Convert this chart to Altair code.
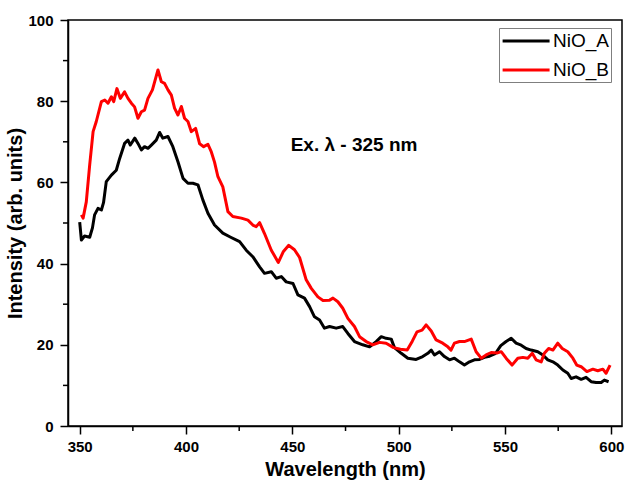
import altair as alt
import pandas as pd

# ---- data ----
a_wl = [350.0, 350.8, 352.3, 354.7, 356.0, 357.0, 358.6, 360.2, 361.2, 362.5, 364.9, 367.2, 368.8,
        371.1, 372.7, 373.8, 375.9, 377.4, 379.0, 380.5, 382.1, 383.7, 386.0, 387.6, 389.1, 391.5,
        393.8, 396.2, 398.6, 400.9, 403.2, 405.6, 407.9, 410.3, 413.4, 417.3, 421.0, 425.2, 428.3,
        431.4, 434.6, 436.9, 440.1, 442.4, 444.8, 447.1, 450.3, 452.6, 455.7, 458.1, 460.4, 462.8,
        465.1, 467.5, 470.6, 473.7, 476.1, 479.2, 483.1, 486.3, 489.4, 491.8, 494.1, 496.5, 498.0,
        501.2, 504.3, 508.2, 511.3, 513.7, 515.3, 516.8, 519.2, 521.5, 523.9, 526.2, 528.6, 530.9,
        533.3, 535.6, 538.0, 540.3, 542.7, 545.4, 548.0, 550.5, 552.9, 555.2, 557.6, 559.9, 562.3,
        565.4, 567.8, 570.1, 572.5, 574.8, 577.2, 579.5, 581.1, 583.4, 585.8, 588.1, 590.5, 592.8,
        595.2, 596.7, 598.7]
a_int = [50.2, 45.8, 46.8, 46.5, 48.8, 52.0, 53.6, 53.2, 55.0, 60.2, 61.8, 63.0, 65.9,
         69.6, 70.4, 69.2, 70.9, 69.6, 68.0, 68.8, 68.4, 69.2, 70.4, 72.3, 70.9, 71.3,
         68.8, 65.1, 61.0, 59.8, 59.8, 59.4, 55.7, 52.4, 49.5, 47.5, 46.5, 45.4, 43.3,
         41.7, 39.2, 37.6, 38.0, 36.4, 36.8, 35.5, 35.1, 32.3, 31.5, 29.4, 26.9, 26.1,
         24.1, 24.5, 24.1, 24.5, 22.8, 20.8, 20.0, 19.5, 20.8, 22.0, 21.6, 21.4, 19.3,
         17.9, 16.7, 16.4, 17.1, 17.9, 18.7, 17.5, 18.3, 17.1, 16.3, 16.7, 15.8, 15.0,
         15.8, 16.3, 16.4, 16.9, 17.2, 17.8, 19.8, 20.8, 21.6, 20.4, 19.9, 19.1, 18.7,
         18.3, 17.5, 16.3, 15.8, 15.0, 13.8, 13.0, 11.7, 12.1, 11.5, 12.0, 10.9, 10.7,
         10.7, 11.3, 10.9]

b_wl = [350.8, 351.6, 353.1, 354.7, 356.3, 357.8, 360.2, 361.8, 363.3, 364.9, 366.0, 367.5, 369.1,
        371.1, 372.7, 374.3, 375.8, 377.4, 379.0, 380.5, 382.1, 384.2, 386.8, 388.4, 389.9, 391.5,
        393.1, 394.6, 396.2, 397.8, 399.3, 400.9, 402.5, 404.5, 406.4, 408.3, 410.3, 411.9, 413.4,
        415.0, 417.3, 419.7, 422.0, 426.0, 429.1, 431.4, 433.0, 434.6, 436.9, 440.1, 443.4, 445.8,
        448.3, 451.0, 453.4, 456.5, 458.9, 462.0, 464.4, 467.5, 469.1, 471.4, 473.7, 476.1, 479.2,
        481.6, 484.7, 487.8, 491.0, 494.1, 497.6, 500.8, 504.0, 506.4, 508.6, 511.0, 512.9, 515.3,
        517.6, 520.7, 523.1, 524.6, 526.2, 528.6, 530.9, 534.1, 536.4, 538.8, 541.1, 543.5, 546.5,
        548.2, 550.5, 553.3, 556.0, 558.4, 560.7, 562.8, 564.6, 567.0, 568.5, 570.5, 572.5, 574.8,
        576.9, 579.5, 581.9, 583.7, 585.8, 588.5, 591.3, 593.6, 596.0, 597.5, 599.4]
b_int = [52.0, 51.2, 55.2, 64.3, 72.5, 75.0, 79.9, 80.3, 79.5, 81.1, 79.9, 83.1, 80.7,
         82.3, 80.7, 79.5, 78.6, 75.8, 77.4, 77.8, 80.7, 82.8, 87.7, 84.8, 84.4, 82.8,
         81.5, 78.3, 76.6, 78.7, 75.8, 75.0, 72.5, 73.3, 69.5, 68.8, 69.4, 67.5, 65.0,
         61.4, 58.9, 52.8, 51.6, 51.2, 50.7, 49.5, 49.1, 50.1, 47.4, 43.3, 40.3, 43.0,
         44.5, 43.4, 41.5, 36.0, 33.9, 31.8, 30.9, 31.0, 31.5, 30.6, 29.0, 26.5, 24.5,
         22.0, 20.8, 20.0, 20.6, 20.4, 19.3, 18.9, 18.7, 20.9, 23.2, 23.6, 24.9, 23.4,
         21.2, 20.4, 19.5, 18.7, 20.4, 20.8, 20.8, 21.4, 18.3, 16.7, 17.5, 18.1, 18.0,
         18.3, 16.7, 15.0, 16.7, 16.9, 16.7, 17.9, 16.3, 15.8, 17.9, 19.1, 18.7, 20.4,
         19.1, 18.3, 16.7, 15.0, 14.6, 13.4, 14.0, 13.6, 14.0, 13.0, 15.0]

series_names = ["NiO_A", "NiO_B"]
series_colors = ["#000000", "#ff0000"]
x_major = [350, 400, 450, 500, 550, 600]
x_minor = [375, 425, 475, 525, 575]
y_major = [0, 20, 40, 60, 80, 100]
y_minor = [10, 30, 50, 70, 90]
note_text = ["Ex. \u03bb - 325 nm"]
note_x = [479]
note_y = [69.2]

FONT = "Liberation Sans"
W, H = 554, 406

df = pd.concat([
    pd.DataFrame({"wl": a_wl, "intensity": a_int, "sample": series_names[0]}),
    pd.DataFrame({"wl": b_wl, "intensity": b_int, "sample": series_names[1]}),
])

xscale = alt.Scale(domain=[344.5, 605], nice=False, zero=False)
yscale = alt.Scale(domain=[0, 100], nice=False, zero=True)

lines = alt.Chart(df).mark_line(strokeWidth=3, strokeJoin="round").encode(
    x=alt.X("wl:Q", scale=xscale,
            axis=alt.Axis(values=x_major, title="Wavelength (nm)", format="d",
                          grid=False, tickSize=8, labelPadding=5, titlePadding=5)),
    y=alt.Y("intensity:Q", scale=yscale,
            axis=alt.Axis(values=y_major, title="Intensity (arb. units)", format="d",
                          grid=False, tickSize=8, labelPadding=7, titlePadding=2)),
    color=alt.Color("sample:N",
                    scale=alt.Scale(domain=series_names, range=series_colors),
                    legend=alt.Legend(title=None, orient="none", legendX=431, legendY=8,
                                      symbolType="M-1,0H4", symbolSize=353,
                                      symbolStrokeWidth=3, labelFontSize=19,
                                      labelFont=FONT, labelColor="black",
                                      labelOffset=30, rowPadding=8, padding=2,
                                      strokeColor="#7f7f7f", fillColor="white")),
)

xminor = alt.Chart(pd.DataFrame({"v": x_minor})).mark_rule(color="black", strokeWidth=1.5).encode(
    x=alt.X("v:Q", scale=xscale), y=alt.value(H), y2=alt.value(H + 5))
yminor = alt.Chart(pd.DataFrame({"v": y_minor})).mark_rule(color="black", strokeWidth=1.5).encode(
    y=alt.Y("v:Q", scale=yscale), x=alt.value(-5), x2=alt.value(0))

note = alt.Chart(pd.DataFrame({"t": note_text, "x": note_x, "y": note_y})).mark_text(
    font=FONT, fontSize=19, fontWeight="bold", color="black", align="center", baseline="middle"
).encode(x=alt.X("x:Q", scale=xscale), y=alt.Y("y:Q", scale=yscale), text="t:N")

chart = alt.layer(lines, xminor, yminor, note).properties(
    width=W, height=H,
    background="white",
    autosize=alt.AutoSizeParams(type="none"),
    padding={"left": 68, "top": 20, "right": 5, "bottom": 55},
).configure_view(stroke="black", strokeWidth=1.5).configure_axis(
    labelFont=FONT, labelFontSize=15, labelFontWeight="bold", labelColor="black",
    titleFont=FONT, titleFontSize=20, titleFontWeight="bold", titleColor="black",
    domainColor="black", domainWidth=1.5, tickColor="black", tickWidth=1.5,
)

chart.save("out.html", embed_options={"renderer": "svg", "actions": False})
